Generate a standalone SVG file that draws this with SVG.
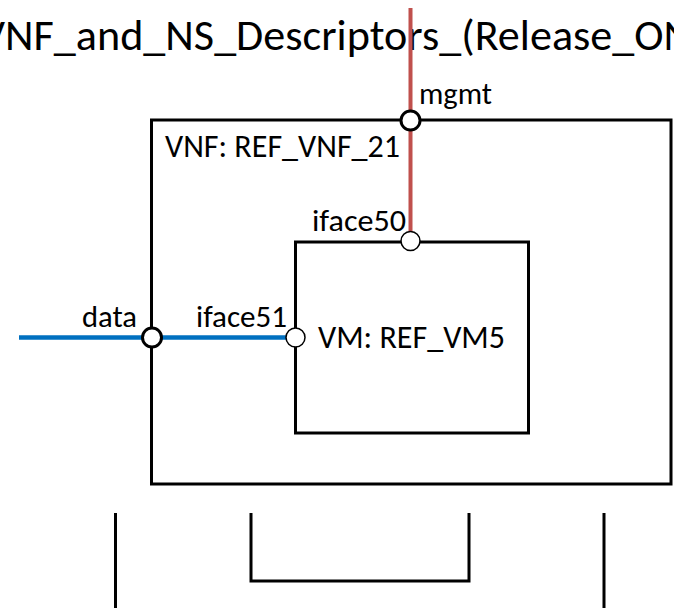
<svg xmlns="http://www.w3.org/2000/svg" width="674" height="608" viewBox="0 0 674 608">
  <style>
    .box { fill: none; stroke: #000; stroke-width: 3; }
    .frame { fill: none; stroke: #000; stroke-width: 3; }
    .port-ext { fill: #fff; stroke: #000; stroke-width: 3; }
    .port-int { fill: #fff; stroke: #000; stroke-width: 1.5; }
    .mgmt-link { stroke: #c0504d; stroke-width: 4; fill: none; }
    .data-link { stroke: #0070c0; stroke-width: 4.5; fill: none; }
    text { font-family: Carlito, Lato, "Liberation Sans", sans-serif; fill: #000; }
    .title { font-size: 44px; }
    .name { font-size: 32px; }
    .lbl { font-size: 30px; }
  </style>

  <!-- page title, runs off both edges -->
  <text class="title" x="-20" y="50" textLength="712" lengthAdjust="spacingAndGlyphs">VNF_and_NS_Descriptors_(Release_ON</text>

  <!-- VNF container -->
  <g id="vnf">
    <rect class="box" x="151.5" y="120" width="519.5" height="364"/>
    <text class="name" x="165" y="157" textLength="235" lengthAdjust="spacingAndGlyphs">VNF: REF_VNF_21</text>
  </g>

  <!-- VM inside the VNF -->
  <g id="vm">
    <rect class="box" x="295.5" y="242" width="233" height="191"/>
    <text class="name" x="318" y="348" textLength="187" lengthAdjust="spacingAndGlyphs">VM: REF_VM5</text>
  </g>

  <!-- virtual links -->
  <g id="connectors">
    <line class="mgmt-link" x1="410.5" y1="8" x2="410.5" y2="232"/>
    <line class="data-link" x1="19" y1="337.5" x2="286" y2="337.5"/>
  </g>

  <!-- connection points -->
  <g id="cp-mgmt">
    <circle class="port-ext" cx="410.5" cy="120.5" r="9.5"/>
    <text class="lbl" x="419" y="104" textLength="73" lengthAdjust="spacingAndGlyphs">mgmt</text>
  </g>
  <g id="cp-data">
    <circle class="port-ext" cx="152" cy="337.5" r="9.5"/>
    <text class="lbl" x="82" y="327" textLength="55" lengthAdjust="spacingAndGlyphs">data</text>
  </g>
  <g id="cp-iface50">
    <circle class="port-int" cx="410.5" cy="241" r="9.5"/>
    <text class="lbl" x="312" y="231" textLength="94" lengthAdjust="spacingAndGlyphs">iface50</text>
  </g>
  <g id="cp-iface51">
    <circle class="port-int" cx="295.5" cy="337.5" r="9.5"/>
    <text class="lbl" x="196" y="327" textLength="91" lengthAdjust="spacingAndGlyphs">iface51</text>
  </g>

  <!-- nested frames at the foot of the page -->
  <g id="lower-frames">
    <polyline class="frame" points="115.5,513 115.5,609.4 604,609.4 604,513"/>
    <polyline class="frame" points="251,513 251,581 469,581 469,513"/>
  </g>
</svg>
